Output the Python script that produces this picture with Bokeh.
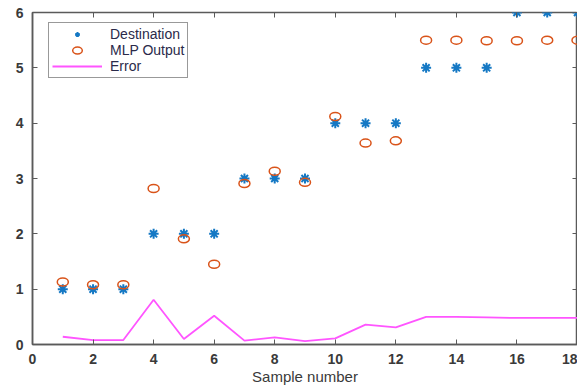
from bokeh.plotting import figure
from bokeh.models import LinearAxis, FixedTicker, CustomJSTickFormatter, Range1d, Legend, LegendItem
from bokeh.embed import file_html
from bokeh.resources import INLINE

samples = list(range(1, 19))
destination = [1, 1, 1, 2, 2, 2, 3, 3, 3, 4, 4, 4, 5, 5, 5, 6, 6, 6]
mlp_output = [1.13, 1.08, 1.08, 2.82, 1.91, 1.45, 2.91, 3.13, 2.93, 4.12, 3.64, 3.68,
              5.50, 5.50, 5.49, 5.49, 5.50, 5.50]
error = [0.14, 0.08, 0.08, 0.81, 0.10, 0.52, 0.07, 0.13, 0.06, 0.11, 0.36, 0.31,
         0.50, 0.50, 0.49, 0.48, 0.48, 0.48]
x_ticks = list(range(0, 19, 2))
y_ticks = list(range(0, 7))

FONT = "Liberation Sans"
AX = "#5a5a5a"
TXT = "#3a3a3a"

p = figure(width=577, height=387, output_backend="svg", toolbar_location=None,
           x_range=Range1d(0, 18), y_range=Range1d(0, 6),
           min_border_left=32, min_border_top=12, min_border_right=0, min_border_bottom=10)
p.grid.visible = False
p.outline_line_color = AX
p.outline_line_width = 1.5
p.background_fill_color = "white"
p.border_fill_color = "white"

for ax in p.xaxis + p.yaxis:
    ax.major_tick_in = 5
    ax.major_tick_out = 0
    ax.minor_tick_line_color = None
    ax.axis_line_color = AX
    ax.axis_line_width = 1.5
    ax.major_tick_line_color = AX
    ax.major_label_text_font = FONT
    ax.major_label_text_font_size = "14px"
    ax.major_label_text_color = TXT
    ax.major_label_text_font_style = "bold"
p.xaxis.ticker = FixedTicker(ticks=x_ticks)
p.yaxis.ticker = FixedTicker(ticks=y_ticks)
p.xaxis.major_label_standoff = 9
p.yaxis.major_label_standoff = 9
p.xaxis.axis_label = "Sample number"
p.xaxis.axis_label_text_font = FONT
p.xaxis.axis_label_text_font_size = "15px"
p.xaxis.axis_label_text_font_style = "normal"
p.xaxis.axis_label_text_color = TXT
p.xaxis.axis_label_standoff = 1

blank = CustomJSTickFormatter(code="return ''")
top = LinearAxis(ticker=FixedTicker(ticks=x_ticks), formatter=blank,
                 major_tick_in=5, major_tick_out=0, minor_tick_line_color=None,
                 axis_line_color=None, major_tick_line_color=AX,
                 major_label_standoff=0, major_label_text_font_size="0px")
right = LinearAxis(ticker=FixedTicker(ticks=y_ticks), formatter=blank,
                   major_tick_in=5, major_tick_out=0, minor_tick_line_color=None,
                   axis_line_color=None, major_tick_line_color=AX,
                   major_label_standoff=0, major_label_text_font_size="0px")
p.add_layout(top, "above")
p.add_layout(right, "right")

r_err = p.line(samples, error, line_color="#ff55ff", line_width=1.8)
r_dest = p.scatter(samples, destination, marker="asterisk", size=10,
                   line_color="#1478c4", line_width=2)
r_mlp = p.ellipse(samples, mlp_output, width=11, height=8,
                  width_units="screen", height_units="screen",
                  fill_color=None, line_color="#D95319", line_width=1.5)

legend = Legend(items=[LegendItem(label="Destination", renderers=[r_dest]),
                       LegendItem(label="MLP Output", renderers=[r_mlp]),
                       LegendItem(label="Error", renderers=[r_err])],
                location=(16, 266))
legend.label_text_font = FONT
legend.label_text_font_size = "14px"
legend.label_text_color = "#2a2a4a"
legend.label_height = 12
legend.glyph_width = 50
legend.glyph_height = 12
legend.spacing = 0
legend.padding = 3
legend.margin = 0
legend.label_standoff = 8
legend.border_line_color = "#333333"
legend.border_line_width = 1.2
legend.background_fill_alpha = 1
p.add_layout(legend, "center")

open("out.html", "w").write(file_html(p, INLINE))
